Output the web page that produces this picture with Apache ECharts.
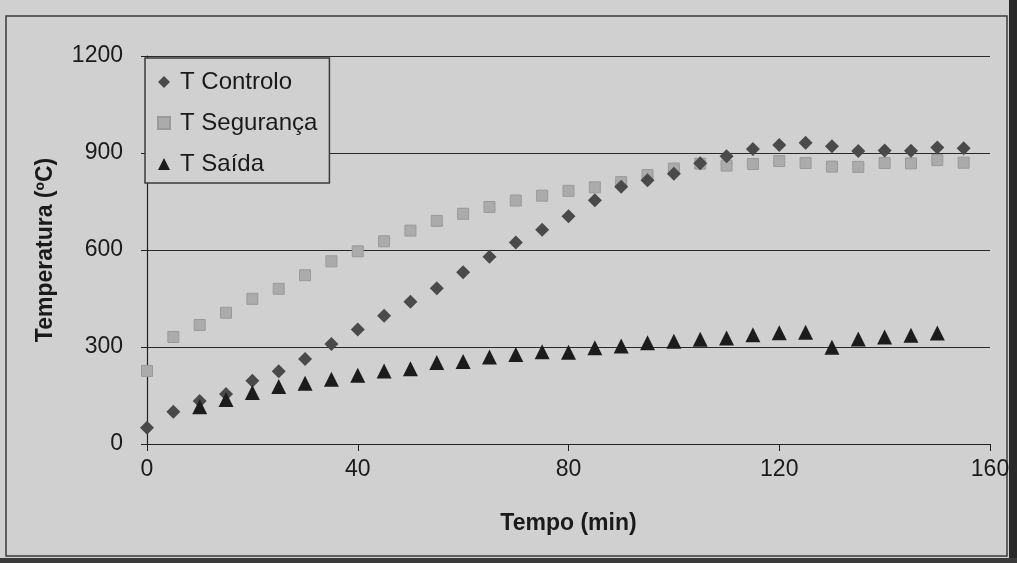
<!DOCTYPE html>
<html>
<head>
<meta charset="utf-8">
<script src="https://cdn.jsdelivr.net/npm/echarts@6/dist/echarts.min.js"></script>
<style>
html,body{margin:0;padding:0;background:#d0d0d0;}
#chart{width:1017px;height:563px;}
</style>
</head>
<body>
<div id="chart"></div>
<script>
// ---- data ----
const tempo = [0,5,10,15,20,25,30,35,40,45,50,55,60,65,70,75,80,85,90,95,100,105,110,115,120,125,130,135,140,145,150,155];
const tControlo = [50,100,133,155,196,225,263,309,354,397,440,482,531,579,623,663,704,754,796,816,836,868,890,912,925,932,921,906,908,907,917,915];
const tSeguranca = [226,331,368,406,449,480,522,565,596,627,660,690,712,733,753,768,783,794,810,832,852,867,861,866,875,869,858,857,869,868,878,870];
const tSaida = [null,null,115,138,159,178,188,200,213,226,233,252,255,269,277,285,284,298,303,313,318,324,328,338,344,346,299,325,331,336,343,null];
const seriesNames = ['T Controlo','T Segurança','T Saída'];
const xTicks = [0,40,80,120,160];
const yTicks = [0,300,600,900,1200];

function pairs(vals){
  const out = [];
  tempo.forEach((t,i)=>{ if(vals[i]!==null && vals[i]!==undefined) out.push([t, vals[i]]); });
  return out;
}

const FONT = '"Liberation Sans", Arial, sans-serif';
const chart = echarts.init(document.getElementById('chart'));
chart.setOption({
  backgroundColor: '#d0d0d0',
  animation: false,
  graphic: [
    {type:'rect', shape:{x:6,y:16,width:1001,height:540}, style:{fill:'none', stroke:'#3a3a3a', lineWidth:1.5}, silent:true, z:-1},
    {type:'rect', shape:{x:1009,y:0,width:8,height:563}, style:{fill:'#2a2a2a'}, silent:true, z:-1},
    {type:'rect', shape:{x:0,y:558,width:1017,height:5}, style:{fill:'#3a3a3a'}, silent:true, z:-1}
  ],
  grid: {left:147, right:27, top:56, bottom:119, containLabel:false},
  legend: {
    left:145, top:58, orient:'vertical',
    data: seriesNames,
    backgroundColor:'#d0d0d0',
    borderColor:'#3a3a3a', borderWidth:1.5,
    padding:[10,12,5,12],
    itemGap:13, itemWidth:12, itemHeight:12,
    textStyle:{fontFamily:FONT, fontSize:24, color:'#1a1a1a', lineHeight:28, padding:[0,0,0,5]},
    z:10
  },
  xAxis: {
    type:'value', min:0, max:160, interval:40,
    name:'Tempo (min)', nameLocation:'middle', nameGap:68,
    nameTextStyle:{fontFamily:FONT, fontSize:23, fontWeight:'bold', color:'#1a1a1a'},
    axisLine:{show:true, lineStyle:{color:'#222', width:1.2}},
    axisTick:{show:true, inside:false, length:7, lineStyle:{color:'#222'}},
    axisLabel:{fontFamily:FONT, fontSize:23, color:'#1a1a1a', margin:14, formatter:v=>xTicks.includes(v)?String(v):''},
    splitLine:{show:false}
  },
  yAxis: {
    type:'value', min:0, max:1200, interval:300,
    name:'Temperatura (ºC)', nameLocation:'middle', nameGap:90,
    nameTextStyle:{fontFamily:FONT, fontSize:23, fontWeight:'bold', color:'#1a1a1a'},
    axisLine:{show:true, lineStyle:{color:'#222', width:1.2}},
    axisTick:{show:true, inside:false, length:6, lineStyle:{color:'#222'}},
    axisLabel:{fontFamily:FONT, fontSize:23, color:'#1a1a1a', margin:24, formatter:v=>yTicks.includes(v)?String(v):''},
    splitLine:{show:true, lineStyle:{color:'#2a2a2a', width:1.2}}
  },
  series: [
    {name:seriesNames[0], type:'scatter', symbol:'diamond', symbolSize:14, z:3,
     itemStyle:{color:'#4a4a4a', opacity:1}, data:pairs(tControlo)},
    {name:seriesNames[1], type:'scatter', symbol:'rect', symbolSize:11, z:2,
     itemStyle:{color:'#ababab', borderColor:'#9a9a9a', borderWidth:1, opacity:1}, data:pairs(tSeguranca)},
    {name:seriesNames[2], type:'scatter', symbol:'triangle', symbolSize:15, z:4,
     itemStyle:{color:'#1c1c1c', opacity:1}, data:pairs(tSaida)}
  ]
});
</script>
</body>
</html>
